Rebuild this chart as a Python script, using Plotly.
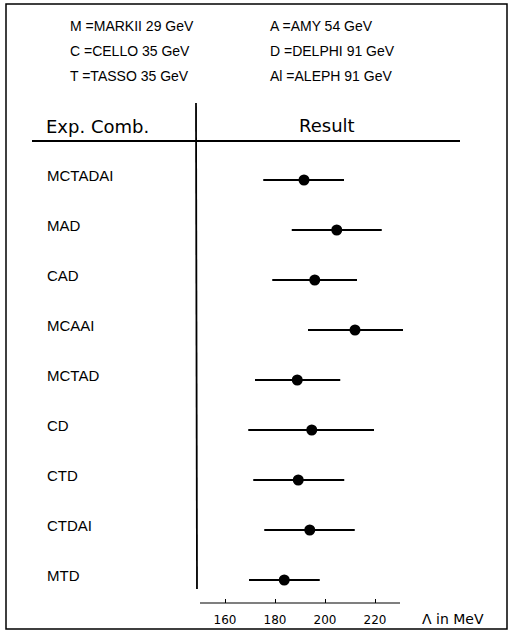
import plotly.graph_objects as go

W, H = 509, 630

# ---- data ----
combinations = ["MCTADAI", "MAD", "CAD", "MCAAI", "MCTAD", "CD", "CTD", "CTDAI", "MTD"]
lambda_central = [191.6, 204.7, 195.9, 212.0, 188.9, 194.7, 189.3, 193.9, 183.7]
lambda_low = [175.3, 186.7, 178.9, 193.2, 172.0, 169.3, 171.3, 175.7, 169.6]
lambda_high = [207.6, 222.7, 212.8, 231.2, 206.1, 219.6, 207.7, 211.9, 197.9]
tick_values = [160, 180, 200, 220]
tick_labels = ["160", "180", "200", "220"]
legend_left = ["M =MARKII 29 GeV", "C =CELLO 35 GeV", "T =TASSO 35 GeV"]
legend_right = ["A =AMY 54 GeV", "D =DELPHI 91 GeV", "Al =ALEPH 91 GeV"]

rows = list(range(len(combinations)))
err_plus = [h - c for h, c in zip(lambda_high, lambda_central)]
err_minus = [c - l for c, l in zip(lambda_central, lambda_low)]


def px(x):
    return x / W


def py(y):
    return 1 - y / H


fig = go.Figure()
fig.add_trace(go.Scatter(
    x=lambda_central, y=rows, mode="markers",
    marker=dict(color="black", size=11),
    error_x=dict(type="data", symmetric=False, array=err_plus, arrayminus=err_minus,
                 color="black", thickness=1.8, width=0),
    showlegend=False, hoverinfo="skip",
))

legend_font = dict(family="Liberation Sans, Arial, sans-serif", size=14, color="black")
label_font = dict(family="Liberation Sans, Arial, sans-serif", size=15, color="black")
head_font = dict(family="DejaVu Sans, sans-serif", size=18, color="black")

annotations = []
for i, t in enumerate(legend_left):
    annotations.append(dict(text=t, x=px(68), y=py(26 + 25 * i), xref="paper", yref="paper",
                            xanchor="left", yanchor="middle", showarrow=False, font=legend_font))
for i, t in enumerate(legend_right):
    annotations.append(dict(text=t, x=px(268), y=py(26 + 25 * i), xref="paper", yref="paper",
                            xanchor="left", yanchor="middle", showarrow=False, font=legend_font))
annotations.append(dict(text="Exp. Comb.", x=px(97), y=py(127), xref="paper", yref="paper",
                        xanchor="center", yanchor="middle", showarrow=False, font=head_font))
annotations.append(dict(text="Result", x=px(327), y=py(126), xref="paper", yref="paper",
                        xanchor="center", yanchor="middle", showarrow=False, font=head_font))
for i, c in zip(rows, combinations):
    annotations.append(dict(text=c, x=px(45), y=i, xref="paper", yref="y", yshift=5,
                            xanchor="left", yanchor="middle", showarrow=False, font=label_font))
annotations.append(dict(text="Λ in MeV", x=px(420), y=py(619), xref="paper", yref="paper",
                        xanchor="left", yanchor="middle", showarrow=False,
                        font=dict(family="DejaVu Sans, sans-serif", size=14, color="black")))

shapes = [
    dict(type="rect", xref="paper", yref="paper", x0=px(6), x1=px(507), y0=py(629), y1=py(4),
         line=dict(color="black", width=1.5)),
    dict(type="line", xref="paper", yref="paper", x0=px(196), x1=px(197), y0=py(103), y1=py(589),
         line=dict(color="black", width=1.8)),
    dict(type="line", xref="paper", yref="paper", x0=px(32), x1=px(460), y0=py(141), y1=py(141),
         line=dict(color="black", width=1.8)),
    dict(type="line", xref="x", yref="paper", x0=150, x1=230, y0=py(603), y1=py(603),
         line=dict(color="black", width=1.2)),
]

fig.update_layout(
    width=W, height=H, autosize=False,
    margin=dict(l=0, r=0, t=0, b=0),
    paper_bgcolor="white", plot_bgcolor="white",
    showlegend=False,
    annotations=annotations, shapes=shapes,
    xaxis=dict(domain=[px(200), px(500)], range=[150, 270], showgrid=False, zeroline=False,
               showline=False, ticks="inside", ticklen=4, tickwidth=1.2, tickcolor="black",
               tickvals=tick_values, ticktext=tick_labels, ticklabelstandoff=8,
               tickfont=dict(family="DejaVu Sans, sans-serif", size=12, color="black")),
    yaxis=dict(domain=[py(603), 1], range=[(603 - 180) / 50, -180 / 50], showgrid=False,
               zeroline=False, showline=False, showticklabels=False, ticks=""),
)

fig.write_html("out.html", config={"displayModeBar": False},
               post_script="document.body.style.margin='0';document.body.style.overflow='hidden';")
